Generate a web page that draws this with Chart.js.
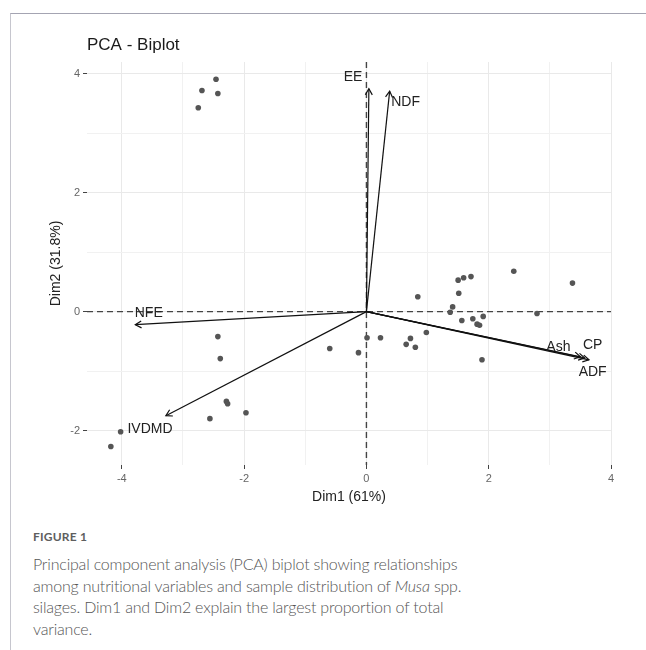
<!DOCTYPE html>
<html>
<head>
<meta charset="utf-8">
<script src="https://cdn.jsdelivr.net/npm/chart.js@4.4.0/dist/chart.umd.min.js"></script>
<style>
  html, body { margin: 0; padding: 0; background: #fff; }
  body { width: 646px; height: 650px; position: relative; overflow: hidden; }
  .frame { position: absolute; left: 10px; top: 13px; right: 0; bottom: 0;
           border-top: 1px solid #a4a4b2; border-left: 1px solid #c6c6ce; }
  .plot { position: absolute; left: 0; top: 0; width: 646px; height: 515px; }
  .caption { position: absolute; left: 33px; top: 529px; width: 600px;
             font-family: Lato, "Open Sans", sans-serif; color: #555; }
  .caption .fig { font-size: 12px; font-weight: 700; letter-spacing: 0.2px; margin-bottom: 9px; color: #5e5e5e; }
  .caption p { margin: 0; font-size: 16px; line-height: 21.7px; font-weight: 300; letter-spacing: -0.2px; }
</style>
</head>
<body>
<div class="frame"></div>
<div class="plot"><canvas id="biplot" width="646" height="515"></canvas></div>
<div class="caption">
  <div class="fig">FIGURE 1</div>
  <p>Principal component analysis (PCA) biplot showing relationships<br>among nutritional variables and sample distribution of <i>Musa</i> spp.<br>silages. Dim1 and Dim2 explain the largest proportion of total<br>variance.</p>
</div>
<script>
// individus (coordonnées)
const sampleX = [-2.46, -2.69, -2.43, -2.75, -2.43, -2.39, -2.29, -2.27, -1.97, -2.56, -4.02, -4.18,
                 -0.60, -0.13, 0.84, 1.50, 1.59, 1.71, 2.41, 3.37, 1.51, 1.41, 1.37, 1.56, 1.74,
                 1.81, 1.85, 1.91, 2.79, 1.89, 0.98, 0.72, 0.65, 0.80, 0.23, 0.01];
const sampleY = [3.91, 3.72, 3.67, 3.43, -0.42, -0.79, -1.51, -1.55, -1.70, -1.80, -2.02, -2.27,
                 -0.62, -0.69, 0.25, 0.53, 0.57, 0.59, 0.68, 0.48, 0.31, 0.08, -0.01, -0.15, -0.12,
                 -0.21, -0.23, -0.08, -0.03, -0.81, -0.35, -0.45, -0.55, -0.60, -0.44, -0.44];

// variables (flèches)
const varNames = ['EE', 'NDF', 'NFE', 'IVDMD', 'Ash', 'CP', 'ADF'];
const varX = [0.04, 0.38, -3.78, -3.28, 3.50, 3.57, 3.64];
const varY = [3.75, 3.71, -0.22, -1.75, -0.76, -0.78, -0.81];
const labelX = [-0.22, 0.64, -3.56, -3.54, 3.14, 3.70, 3.70];
const labelY = [3.95, 3.53, -0.03, -1.97, -0.59, -0.56, -1.02];

const xTicks = [-4, -2, 0, 2, 4];
const yTicks = [-2, 0, 2, 4];

document.addEventListener('DOMContentLoaded', function () {
    const ctx = document.getElementById('biplot').getContext('2d');
    const fontFamily = '"Liberation Sans", Arial, sans-serif';

    const points = sampleX.map((x, i) => ({ x: x, y: sampleY[i] }));

    const arrowSets = varNames.map((name, i) => ({
        label: name,
        data: [{ x: 0, y: 0 }, { x: varX[i], y: varY[i] }],
        showLine: true,
        borderColor: '#111',
        borderWidth: 1.2,
        pointRadius: 0,
        order: 0
    }));

    // lignes pointillées en 0, pointes des flèches, étiquettes, titre
    const biplotExtras = {
        id: 'biplotExtras',
        beforeDatasetsDraw(chart) {
            const { ctx, chartArea, scales } = chart;
            const x0 = scales.x.getPixelForValue(0);
            const y0 = scales.y.getPixelForValue(0);
            ctx.save();
            ctx.strokeStyle = '#444';
            ctx.lineWidth = 1.4;
            ctx.setLineDash([6, 4]);
            ctx.beginPath();
            ctx.moveTo(chartArea.left, y0);
            ctx.lineTo(chartArea.right, y0);
            ctx.moveTo(x0, chartArea.top);
            ctx.lineTo(x0, chartArea.bottom);
            ctx.stroke();
            ctx.restore();
        },
        afterDatasetsDraw(chart) {
            const { ctx, scales } = chart;
            const x0 = scales.x.getPixelForValue(0);
            const y0 = scales.y.getPixelForValue(0);
            ctx.save();
            ctx.strokeStyle = '#111';
            ctx.lineWidth = 1.2;
            varNames.forEach((name, i) => {
                const tx = scales.x.getPixelForValue(varX[i]);
                const ty = scales.y.getPixelForValue(varY[i]);
                const ang = Math.atan2(ty - y0, tx - x0);
                const len = 7;
                ctx.beginPath();
                ctx.moveTo(tx - len * Math.cos(ang - Math.PI / 6), ty - len * Math.sin(ang - Math.PI / 6));
                ctx.lineTo(tx, ty);
                ctx.lineTo(tx - len * Math.cos(ang + Math.PI / 6), ty - len * Math.sin(ang + Math.PI / 6));
                ctx.stroke();
            });
            ctx.fillStyle = '#222';
            ctx.font = '14px ' + fontFamily;
            ctx.textAlign = 'center';
            ctx.textBaseline = 'middle';
            varNames.forEach((name, i) => {
                ctx.fillText(name, scales.x.getPixelForValue(labelX[i]), scales.y.getPixelForValue(labelY[i]));
            });
            ctx.restore();
        },
        afterDraw(chart) {
            const { ctx, chartArea } = chart;
            ctx.save();
            ctx.fillStyle = '#1a1a1a';
            ctx.font = '17px ' + fontFamily;
            ctx.textAlign = 'left';
            ctx.textBaseline = 'middle';
            ctx.fillText('PCA - Biplot', chartArea.left, 45);
            ctx.restore();
        }
    };

    function integerTicks(scale) {
        const ticks = [];
        for (let v = Math.ceil(scale.min); v <= Math.floor(scale.max); v++) ticks.push({ value: v });
        scale.ticks = ticks;
    }

    function axis(major, extra) {
        return Object.assign({
            afterBuildTicks: integerTicks,
            border: { display: false },
            grid: {
                color: c => major.includes(c.tick.value) ? '#e9e9e9' : '#f1f1f1',
                lineWidth: 1,
                tickLength: 4,
                tickColor: c => major.includes(c.tick.value) ? '#444' : 'rgba(0,0,0,0)'
            },
            ticks: {
                callback: v => major.includes(v) ? String(v) : '',
                color: '#666',
                font: { family: fontFamily, size: 11 },
                maxRotation: 0,
                autoSkip: false
            }
        }, extra);
    }

    new Chart(ctx, {
        type: 'scatter',
        data: {
            datasets: [{
                label: 'samples',
                data: points,
                backgroundColor: '#555',
                borderWidth: 0,
                pointRadius: 2.8,
                order: 1
            }].concat(arrowSets)
        },
        options: {
            responsive: false,
            animation: false,
            layout: { padding: { top: 62, right: 35, bottom: 5, left: 0 } },
            plugins: { legend: { display: false }, tooltip: { enabled: false } },
            scales: {
                x: axis(xTicks, {
                    type: 'linear',
                    min: -4.57,
                    max: 4.0,
                    afterFit: s => { s.height = 45; },
                    title: {
                        display: true, text: 'Dim1 (61%)', color: '#222',
                        font: { family: fontFamily, size: 14 },
                        padding: { top: 0, bottom: 4 }
                    }
                }),
                y: axis(yTicks, {
                    type: 'linear',
                    min: -2.58,
                    max: 4.2,
                    afterFit: s => { s.width = 87; },
                    title: {
                        display: true, text: 'Dim2 (31.8%)', color: '#222',
                        font: { family: fontFamily, size: 14 },
                        padding: { top: 48, bottom: 0 }
                    }
                })
            }
        },
        plugins: [biplotExtras]
    });
});
</script>
</body>
</html>
